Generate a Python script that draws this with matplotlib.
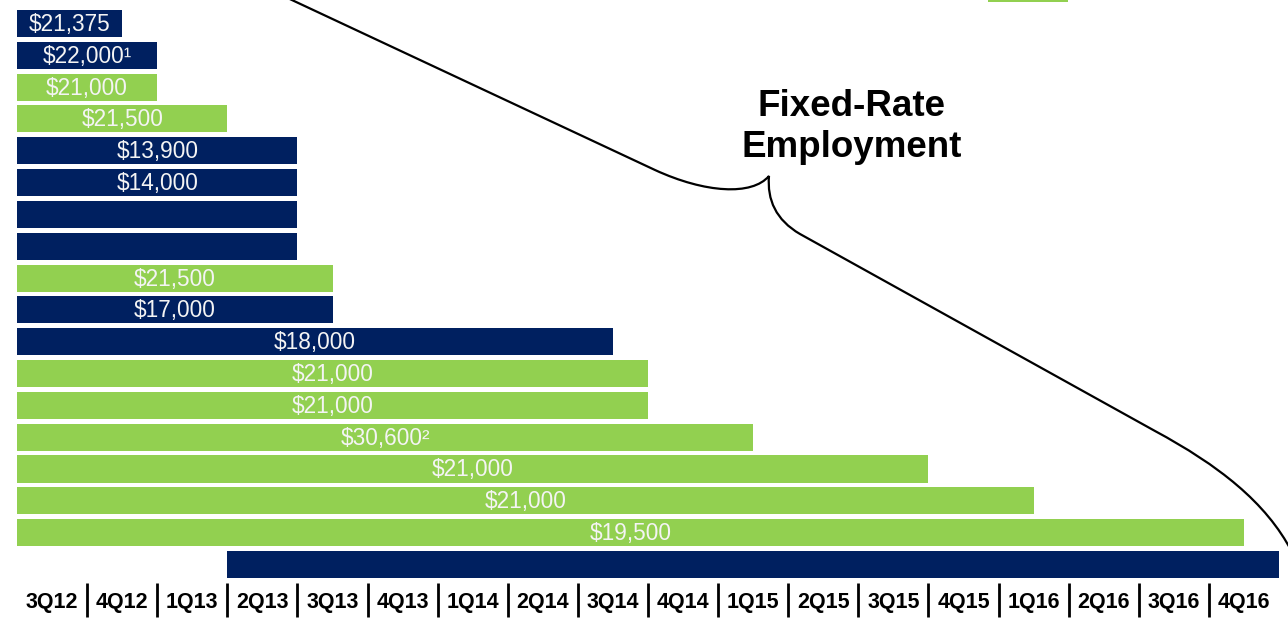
import matplotlib
matplotlib.use("Agg")
import matplotlib.pyplot as plt
from matplotlib.path import Path
from matplotlib.patches import PathPatch, Rectangle

# ---------------- data ----------------
quarters = ["3Q12", "4Q12", "1Q13", "2Q13", "3Q13", "4Q13", "1Q14", "2Q14", "3Q14",
            "4Q14", "1Q15", "2Q15", "3Q15", "4Q15", "1Q16", "2Q16", "3Q16", "4Q16"]
bar_labels = ["$21,375", "$22,000\u00b9", "$21,000", "$21,500", "$13,900", "$14,000", "", "",
              "$21,500", "$17,000", "$18,000", "$21,000", "$21,000", "$30,600\u00b2",
              "$21,000", "$21,000", "$19,500", ""]
bar_start = [0, 0, 0, 0, 0, 0, 0, 0, 0, 0, 0, 0, 0, 0, 0, 0, 0, 3]
bar_end = [1.5, 2, 2, 3, 4, 4, 4, 4, 4.5, 4.5, 8.5, 9, 9, 10.5, 13, 14.5, 17.5, 18]
bar_kind = ["navy", "navy", "green", "green", "navy", "navy", "navy", "navy", "green",
            "navy", "navy", "green", "green", "green", "green", "green", "green", "navy"]
annotation = "Fixed-Rate\nEmployment"

COLORS = {"navy": "#002060", "green": "#92D050"}

W, H = 1288, 620
fig = plt.figure(figsize=(W / 100, H / 100), dpi=100)

# axes: x from px 17 to 1279, y from px 0 to 580
ax = fig.add_axes([17 / W, (H - 580) / H, 1262 / W, 580 / H])
pitch = 31.82
top_d = -23.5 / pitch
bot_d = (580 - 23.5) / pitch
ax.set_xlim(0, len(quarters))
ax.set_ylim(bot_d, top_d)

rows = list(range(len(bar_labels)))
for r, lab, s, e, k in zip(rows, bar_labels, bar_start, bar_end, bar_kind):
    ax.barh(r, e - s, left=s, height=0.85, color=COLORS[k], linewidth=0)
    if lab:
        ax.text((s + e) / 2, r + 0.03, lab, ha="center", va="center",
                color="#F4F4F4", fontsize=16.3, family="Liberation Sans")

ax.set_yticks([])
ax.set_xticks([i + 0.5 for i in range(len(quarters))])
ax.set_xticklabels(quarters, fontsize=15.5, fontweight="bold", family="Liberation Sans")
ax.tick_params(axis="x", length=0, pad=8.5)
for sp in ax.spines.values():
    sp.set_visible(False)

# quarter separators below the axis
y0 = bot_d + 3 / pitch
y1 = bot_d + 37 / pitch
ax.vlines(range(1, len(quarters)), y0, y1, colors="black", linewidth=2, clip_on=False)

# overlay for brace and annotation
ov = fig.add_axes([0, 0, 1, 1], zorder=5)
ov.set_xlim(0, W)
ov.set_ylim(H, 0)
ov.axis("off")
ov.patch.set_alpha(0)

# legend swatch remnant at the top
ov.add_patch(Rectangle((988, -20), 80, 22, color=COLORS["green"], linewidth=0))

verts = [
    (262, -14), (655, 170),
    (705, 193), (752, 196), (769, 176),
    (767, 200), (776, 220), (800, 234),
    (1155, 431),
    (1218, 465), (1266, 502), (1292, 552),
]
codes = [Path.MOVETO, Path.LINETO,
         Path.CURVE4, Path.CURVE4, Path.CURVE4,
         Path.CURVE4, Path.CURVE4, Path.CURVE4,
         Path.LINETO,
         Path.CURVE4, Path.CURVE4, Path.CURVE4]
ov.add_patch(PathPatch(Path(verts, codes), facecolor="none", edgecolor="black", linewidth=1.6))

ov.text(852, 127, annotation, ha="center", va="center", multialignment="center",
        fontsize=26.5, fontweight="bold", family="Liberation Sans", linespacing=1.25)

fig.savefig("out.png", dpi=100)
